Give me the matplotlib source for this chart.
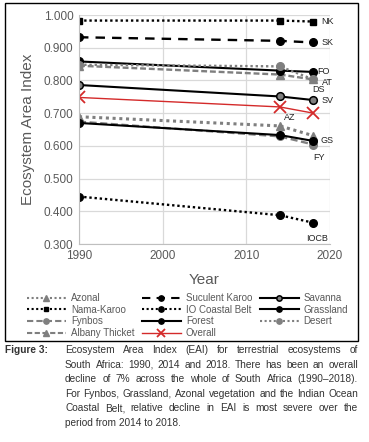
import matplotlib
matplotlib.use("Agg")
import matplotlib.pyplot as plt
from matplotlib import font_manager
from matplotlib.patches import Rectangle

names = {f.name for f in font_manager.fontManager.ttflist}
narrow = "Liberation Sans Narrow" if "Liberation Sans Narrow" in names else "Liberation Sans"
plt.rcParams['font.family'] = [narrow, 'DejaVu Sans']

years = [1990, 2014, 2018]

azonal = [0.689, 0.661, 0.631]
nama_karoo = [0.983, 0.983, 0.980]
fynbos = [0.674, 0.629, 0.604]
albany = [0.845, 0.818, 0.803]
succulent = [0.932, 0.921, 0.916]
io_coastal = [0.445, 0.388, 0.365]
forest = [0.858, 0.830, 0.826]
overall = [0.748, 0.719, 0.700]
savanna = [0.786, 0.751, 0.740]
grassland = [0.670, 0.633, 0.615]
desert = [0.848, 0.843, 0.803]

end_labels = ["AZ", "NK", "FY", "AT", "SK", "IOCB", "FO", None, "SV", "GS", "DS"]

GRAY = "#7f7f7f"
TXT = "#595959"

W, H = 369, 442
fig = plt.figure(figsize=(W / 100, H / 100), dpi=100)
ax = fig.add_axes([79 / W, 1 - 244 / H, 251 / W, 229 / H])

series = [
    ("Azonal", azonal, dict(color=GRAY, ls=(0, (1, 1.2)), lw=2.2, marker="^", ms=6, mfc=GRAY, mec=GRAY)),
    ("Nama-Karoo", nama_karoo, dict(color="black", ls=(0, (1, 1.2)), lw=1.7, marker="s", ms=5, mfc="black", mec="black")),
    ("Fynbos", fynbos, dict(color=GRAY, ls=(0, (3, 1.5)), lw=1.7, marker="o", ms=5.5, mfc=GRAY, mec=GRAY)),
    ("Albany Thicket", albany, dict(color=GRAY, ls=(0, (2.5, 1.2)), lw=1.7, marker="^", ms=6, mfc=GRAY, mec=GRAY)),
    ("Suculent Karoo", succulent, dict(color="black", ls=(0, (4, 3)), lw=1.7, marker="o", ms=5.5, mfc="black", mec="black")),
    ("IO Coastal Belt", io_coastal, dict(color="black", ls=(0, (1, 1.2)), lw=1.7, marker="o", ms=5.5, mfc="black", mec="black")),
    ("Forest", forest, dict(color="black", ls="-", lw=1.5, marker="o", ms=5.5, mfc="black", mec="black")),
    ("Overall", overall, dict(color="#d42a2a", ls="-", lw=1.0, marker="x", ms=9, mew=1.3)),
    ("Savanna", savanna, dict(color="black", ls="-", lw=1.5, marker="o", ms=5.5, mfc=GRAY, mec="black", mew=1.1)),
    ("Grassland", grassland, dict(color="black", ls="-", lw=1.5, marker="o", ms=5.5, mfc="black", mec="black")),
    ("Desert", desert, dict(color=GRAY, ls=(0, (1, 1.2)), lw=1.7, marker="o", ms=5.5, mfc=GRAY, mec=GRAY)),
]

handles = []
for name, vals, kw in series:
    h, = ax.plot(years, vals, label=name, **kw)
    handles.append(h)

offsets = {"NK": (6, 0), "SK": (6, 0), "FO": (3, 0), "AT": (6, -2),
           "DS": (-1, -7), "SV": (6, 0), "AZ": (3, 6), "GS": (5, 0),
           "FY": (0, -9), "IOCB": (-5, -11)}
for (name, vals, kw), lab in zip(series, end_labels):
    if lab is None:
        continue
    dx, dy = offsets[lab]
    k = 1 if lab == "AZ" else -1
    ax.annotate(lab, (years[k], vals[k]), xytext=(dx, dy), textcoords="offset points",
                ha="left", va="center", fontsize=6.5, color="#222222")

ax.set_xlim(1990, 2020)
ax.set_ylim(0.3, 1.0)
ax.set_xticks([1990, 2000, 2010, 2020])
ax.set_yticks([0.3, 0.4, 0.5, 0.6, 0.7, 0.8, 0.9, 1.0])
ax.set_yticklabels([f"{v:.3f}" for v in ax.get_yticks()])
ax.grid(True, color="#d9d9d9", lw=0.9)
ax.set_axisbelow(True)
for s in ["top", "right"]:
    ax.spines[s].set_visible(False)
for s in ["left", "bottom"]:
    ax.spines[s].set_color("#bfbfbf")
ax.tick_params(length=0, labelsize=8.5, colors=TXT, pad=4)
ax.set_xlabel("Year", fontsize=11, color=TXT, labelpad=8)
ax.set_ylabel("Ecosystem Area Index", fontsize=11, color=TXT, labelpad=6)

leg = fig.legend(handles=handles, ncol=3, loc="upper left",
                 bbox_to_anchor=(27 / W, 1 - 293 / H), frameon=False,
                 fontsize=7, handlelength=4.0, handletextpad=0.5,
                 columnspacing=0.8, labelspacing=0.18, borderpad=0,
                 borderaxespad=0, markerscale=0.7)
for t in leg.get_texts():
    t.set_color(TXT)
for lh in leg.get_lines():
    lh.set_linewidth(min(lh.get_linewidth(), 1.5))

fig.add_artist(Rectangle((5 / W, 1 - 341 / H), 353 / W, 338 / H,
                         transform=fig.transFigure, fill=False, ec="black", lw=1.0))

caption = [
    "Ecosystem Area Index (EAI) for terrestrial ecosystems of",
    "South Africa: 1990, 2014 and 2018. There has been an overall",
    "decline of 7% across the whole of South Africa (1990\u20132018).",
    "For Fynbos, Grassland, Azonal vegetation and the Indian Ocean",
    "Coastal Belt, relative decline in EAI is most severe over the",
    "period from 2014 to 2018.",
]
fig.canvas.draw()
r = fig.canvas.get_renderer()
x0, x1 = 65, 358

# pick a caption size that lets the widest line fit with natural spacing
probe = [fig.text(0, 0, l, fontsize=10) for l in caption]
widest = max(p.get_window_extent(r).width for p in probe)
for p in probe:
    p.remove()
cap_fs = min(8.5, 10 * (x1 - x0) / widest * 0.99)

base0 = 353
fig.text(5 / W, 1 - base0 / H, "Figure 3:", fontsize=cap_fs, fontweight="bold",
         color="#333333", va="baseline")
for i, line in enumerate(caption):
    yy = 1 - (base0 + i * 14.6) / H
    words = line.split(" ")
    if i == len(caption) - 1:
        fig.text(x0 / W, yy, line, fontsize=cap_fs, color="#333333", va="baseline")
        continue
    objs = [fig.text(0, yy, w, fontsize=cap_fs, color="#333333", va="baseline") for w in words]
    widths = [o.get_window_extent(r).width for o in objs]
    gap = (x1 - x0 - sum(widths)) / (len(words) - 1)
    xx = x0
    for o, wd in zip(objs, widths):
        o.set_x(xx / W)
        xx += wd + gap

fig.savefig("out.png", dpi=100)
